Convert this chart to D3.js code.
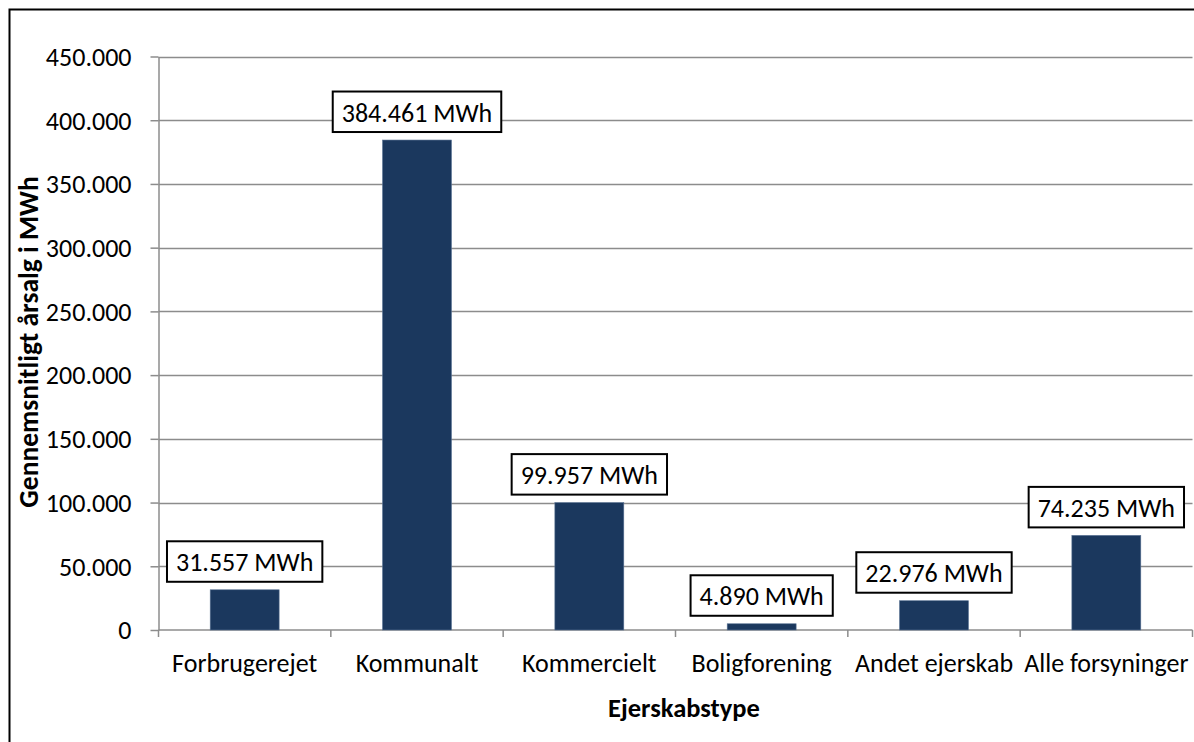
<!DOCTYPE html>
<html>
<head>
<meta charset="utf-8">
<script src="https://cdn.jsdelivr.net/npm/d3@7"></script>
<style>
  body { margin: 0; background: #fff; }
  svg { display: block; font-family: Carlito, Calibri, Lato, sans-serif; }
</style>
</head>
<body>
<svg id="chart"></svg>
<script>
const WIDTH = 1194;
const HEIGHT = 742;

// data
const categories = ['Forbrugerejet', 'Kommunalt', 'Kommercielt', 'Boligforening', 'Andet ejerskab', 'Alle forsyninger'];
const values = [31557, 384461, 99957, 4890, 22976, 74235];
const labels = ['31.557 MWh', '384.461 MWh', '99.957 MWh', '4.890 MWh', '22.976 MWh', '74.235 MWh'];
const yTicks = [0, 50000, 100000, 150000, 200000, 250000, 300000, 350000, 400000, 450000];

const plotLeft = 158.5, plotRight = 1192.5, plotTop = 56.5, plotBottom = 630;
const FONT = 26;

let svg = d3.select('#chart')
    .attr('width', WIDTH)
    .attr('height', HEIGHT);

// outer frame (right and bottom edges fall outside the picture)
svg.append('rect')
    .attr('x', 9.5).attr('y', 9.5)
    .attr('width', WIDTH + 20).attr('height', HEIGHT + 20)
    .attr('fill', 'white')
    .attr('stroke', 'black')
    .attr('stroke-width', 2);

const x = d3.scaleBand()
    .domain(categories)
    .range([plotLeft, plotRight])
    .paddingInner(0.6)
    .paddingOuter(0.3);

const xOuter = d3.scaleBand()
    .domain(categories)
    .range([plotLeft, plotRight]);

const y = d3.scaleLinear()
    .domain([0, 450000])
    .range([plotBottom, plotTop]);

const fmt = d3.formatLocale({decimal: ',', thousands: '.', grouping: [3], currency: ['', '']}).format(',');

// gridlines
svg.append('g')
    .selectAll('line')
    .data(yTicks.slice(1))
    .enter()
    .append('line')
    .attr('x1', plotLeft).attr('x2', plotRight)
    .attr('y1', d => Math.round(y(d)) + 0.5)
    .attr('y2', d => Math.round(y(d)) + 0.5)
    .style('stroke', '#8c8c8c')
    .style('stroke-width', 1.5);

// y axis
let yAxis = svg.append('g')
    .attr('transform', `translate(${plotLeft},0)`)
    .call(d3.axisLeft(y).tickValues(yTicks).tickFormat(d => fmt(d)).tickSize(8).tickSizeOuter(0));
yAxis.select('.domain').style('stroke', '#8c8c8c').style('stroke-width', 1.5);
yAxis.selectAll('.tick line').style('stroke', '#8c8c8c').style('stroke-width', 1.5);
yAxis.selectAll('.tick text')
    .attr('x', -27)
    .attr('dy', '0.34em')
    .style('font-size', FONT + 'px')
    .style('font-family', 'Carlito, Calibri, Lato, sans-serif')
    .style('fill', '#000');

// x axis
let xAxis = svg.append('g')
    .attr('transform', `translate(0,${plotBottom})`);
xAxis.append('line')
    .attr('x1', plotLeft).attr('x2', plotRight)
    .style('stroke', '#8c8c8c').style('stroke-width', 1.5);
xAxis.selectAll('line.tk')
    .data(categories.concat(['end']))
    .enter()
    .append('line')
    .attr('class', 'tk')
    .attr('x1', (d, i) => i < categories.length ? xOuter(d) : plotRight)
    .attr('x2', (d, i) => i < categories.length ? xOuter(d) : plotRight)
    .attr('y1', 0).attr('y2', 7)
    .style('stroke', '#8c8c8c').style('stroke-width', 1.5);
xAxis.selectAll('text')
    .data(categories)
    .enter()
    .append('text')
    .attr('x', d => xOuter(d) + xOuter.bandwidth() / 2)
    .attr('y', 42)
    .attr('text-anchor', 'middle')
    .style('font-size', FONT + 'px')
    .text(d => d);

// bars
svg.append('g')
    .selectAll('rect')
    .data(values)
    .enter()
    .append('rect')
    .attr('x', (d, i) => x(categories[i]))
    .attr('width', x.bandwidth())
    .attr('y', d => y(d))
    .attr('height', d => plotBottom - y(d))
    .style('fill', '#1b385e')
    .style('stroke', '#5a7394')
    .style('stroke-width', 0.6);

// data labels
let lab = svg.append('g')
    .selectAll('g')
    .data(values)
    .enter()
    .append('g');
lab.append('rect');
lab.append('text')
    .attr('x', (d, i) => xOuter(categories[i]) + xOuter.bandwidth() / 2)
    .attr('y', d => y(d) - 18.5)
    .attr('text-anchor', 'middle')
    .style('font-size', FONT + 'px')
    .text((d, i) => labels[i]);
lab.each(function() {
    let g = d3.select(this);
    let t = g.select('text').node();
    let w = t.getComputedTextLength();
    let cx = +t.getAttribute('x');
    let by = +t.getAttribute('y');
    g.select('rect')
        .attr('x', cx - w / 2 - 9)
        .attr('y', by - 30)
        .attr('width', w + 18)
        .attr('height', 40.5)
        .style('fill', 'white')
        .style('stroke', 'black')
        .style('stroke-width', 2);
});

// axis titles
svg.append('text')
    .attr('transform', `translate(38,342) rotate(-90)`)
    .attr('text-anchor', 'middle')
    .style('font-size', '27.5px')
    .style('font-weight', 'bold')
    .text('Gennemsnitligt årsalg i MWh');

svg.append('text')
    .attr('x', 684)
    .attr('y', 717)
    .attr('text-anchor', 'middle')
    .style('font-size', '26.5px')
    .style('font-weight', 'bold')
    .text('Ejerskabstype');
</script>
</body>
</html>
